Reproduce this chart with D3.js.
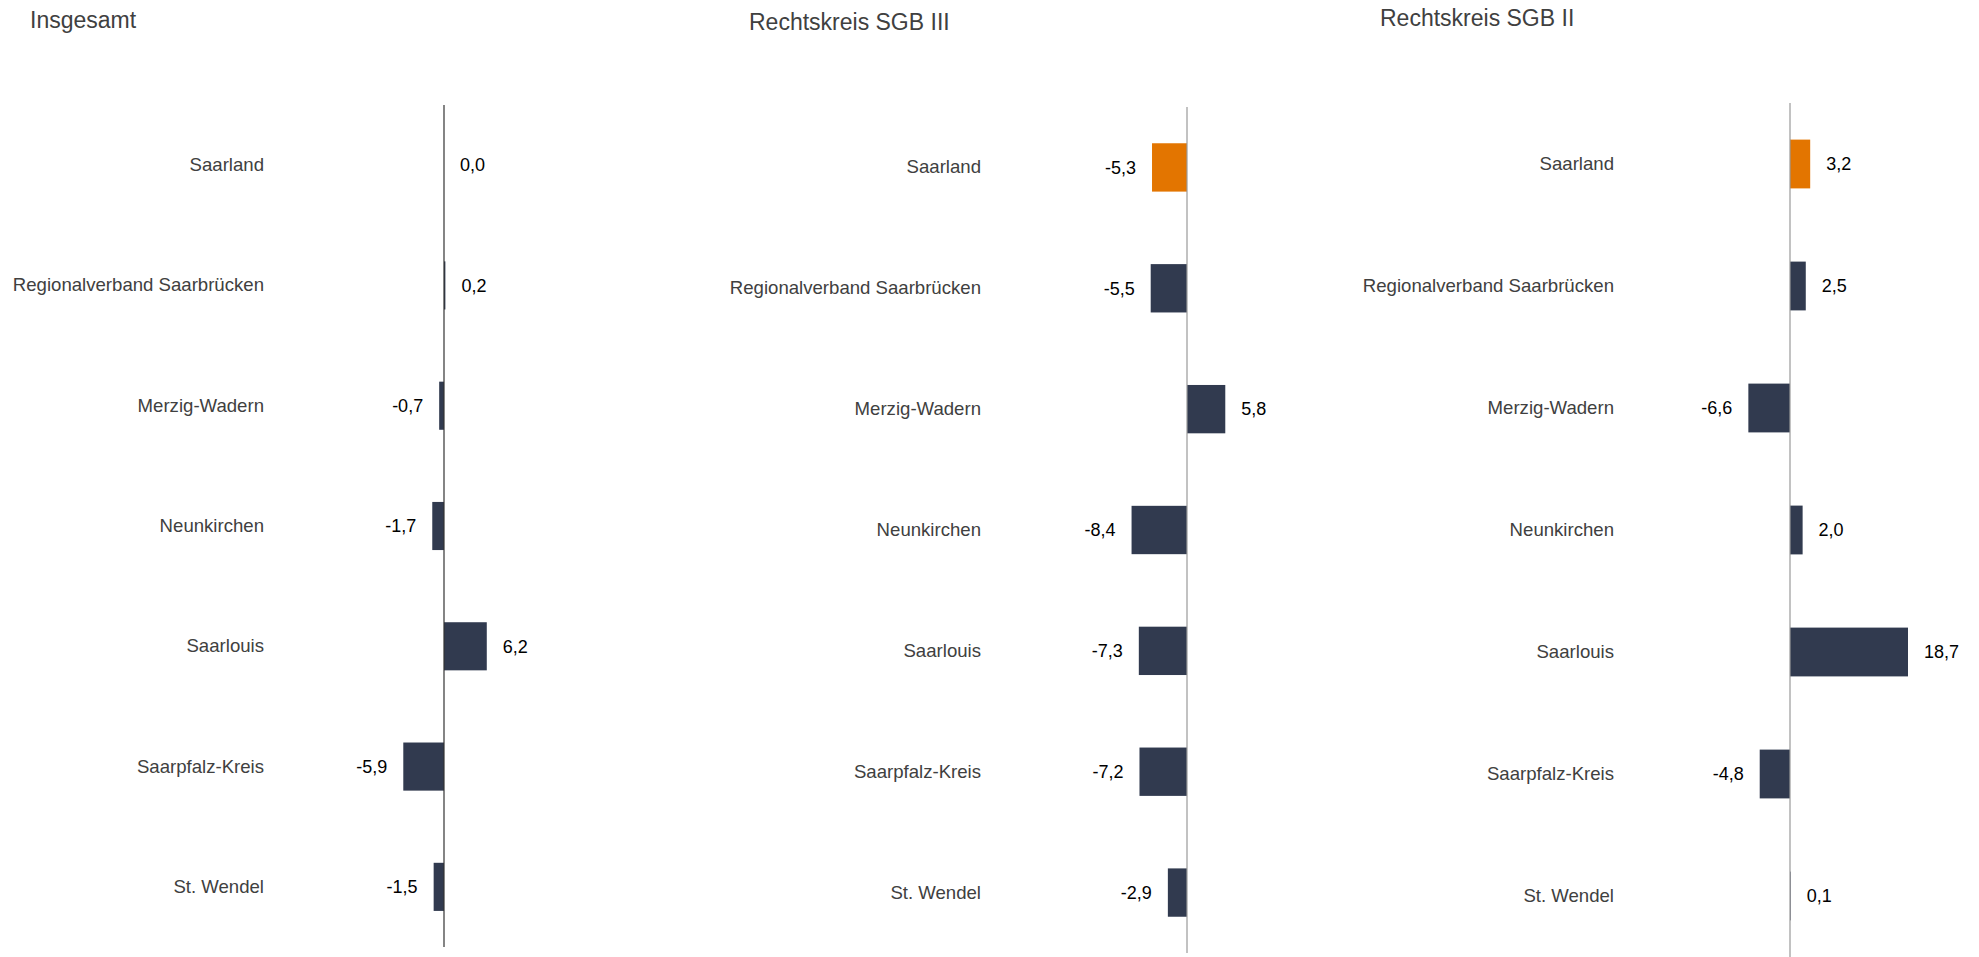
<!DOCTYPE html>
<html>
<head>
<meta charset="utf-8">
<script src="https://cdn.jsdelivr.net/npm/d3@7"></script>
<style>
  html, body { margin: 0; padding: 0; background: #ffffff; }
  svg { display: block; font-family: "Liberation Sans", Arial, sans-serif; }
</style>
</head>
<body>
<svg id="chart" width="1979" height="957"></svg>
<script>
// ---- Data ----
const categories = ["Saarland", "Regionalverband Saarbrücken", "Merzig-Wadern", "Neunkirchen", "Saarlouis", "Saarpfalz-Kreis", "St. Wendel"];
const panelTitles = ["Insgesamt", "Rechtskreis SGB III", "Rechtskreis SGB II"];
const valuesInsgesamt = [0.0, 0.2, -0.7, -1.7, 6.2, -5.9, -1.5];
const valuesSGB3 = [-5.3, -5.5, 5.8, -8.4, -7.3, -7.2, -2.9];
const valuesSGB2 = [3.2, 2.5, -6.6, 2.0, 18.7, -4.8, 0.1];
const highlightCategory = "Saarland";

// ---- Layout (positions/styles only) ----
const panels = [
  { title: panelTitles[0], values: valuesInsgesamt, domain: [-10, 10], zeroX: 444, ppu: 6.9, yTop: 105, yBottom: 947, labelRight: 264, titleX: 30, titleY: 28, axisColor: "#333333" },
  { title: panelTitles[1], values: valuesSGB3, domain: [-10, 10], zeroX: 1187, ppu: 6.6, yTop: 107, yBottom: 953, labelRight: 981, titleX: 749, titleY: 30, axisColor: "#999999" },
  { title: panelTitles[2], values: valuesSGB2, domain: [-10, 20], zeroX: 1790, ppu: 6.31, yTop: 103, yBottom: 957, labelRight: 1614, titleX: 1380, titleY: 26, axisColor: "#999999" }
];

const barColor = "#313a4f";
const highlightColor = "#e37500";

const locale = d3.formatLocale({ decimal: ",", thousands: ".", grouping: [3], currency: ["", " €"], minus: "-" });
const fmt = locale.format(".1f");

const svg = d3.select("#chart");

panels.forEach(p => {
  const g = svg.append("g");

  const x = d3.scaleLinear()
    .domain(p.domain)
    .range([p.zeroX + p.domain[0] * p.ppu, p.zeroX + p.domain[1] * p.ppu]);

  const y = d3.scaleBand()
    .domain(categories)
    .range([p.yTop, p.yBottom])
    .paddingInner(0.6)
    .paddingOuter(0.3);

  const data = categories.map((c, i) => ({ cat: c, v: p.values[i] }));

  // title
  g.append("text")
    .attr("x", p.titleX)
    .attr("y", p.titleY)
    .attr("font-size", 23)
    .attr("fill", "#404040")
    .text(p.title);

  // category labels via axis
  const yAxis = d3.axisLeft(y).tickSize(0).tickPadding(0);
  const ax = g.append("g")
    .attr("transform", `translate(${p.labelRight},0)`)
    .call(yAxis);
  ax.select(".domain").remove();
  ax.selectAll("text")
    .attr("font-size", 18.6)
    .attr("font-family", "Liberation Sans, Arial, sans-serif")
    .attr("fill", "#404040");

  // bars
  g.selectAll("rect.bar")
    .data(data)
    .join("rect")
    .attr("class", "bar")
    .attr("x", d => Math.min(x(0), x(d.v)))
    .attr("y", d => y(d.cat))
    .attr("width", d => Math.abs(x(d.v) - x(0)))
    .attr("height", y.bandwidth())
    .attr("fill", d => d.cat === highlightCategory ? highlightColor : barColor);

  // zero line
  g.append("line")
    .attr("x1", x(0)).attr("x2", x(0))
    .attr("y1", p.yTop).attr("y2", p.yBottom)
    .attr("stroke", p.axisColor)
    .attr("stroke-width", 1.2);

  // value labels
  g.selectAll("text.val")
    .data(data)
    .join("text")
    .attr("class", "val")
    .attr("x", d => d.v < 0 ? x(d.v) - 16 : x(d.v) + 16)
    .attr("y", d => y(d.cat) + y.bandwidth() / 2)
    .attr("dy", "0.35em")
    .attr("text-anchor", d => d.v < 0 ? "end" : "start")
    .attr("font-size", 18)
    .attr("fill", "#000000")
    .text(d => fmt(d.v));
});
</script>
</body>
</html>
